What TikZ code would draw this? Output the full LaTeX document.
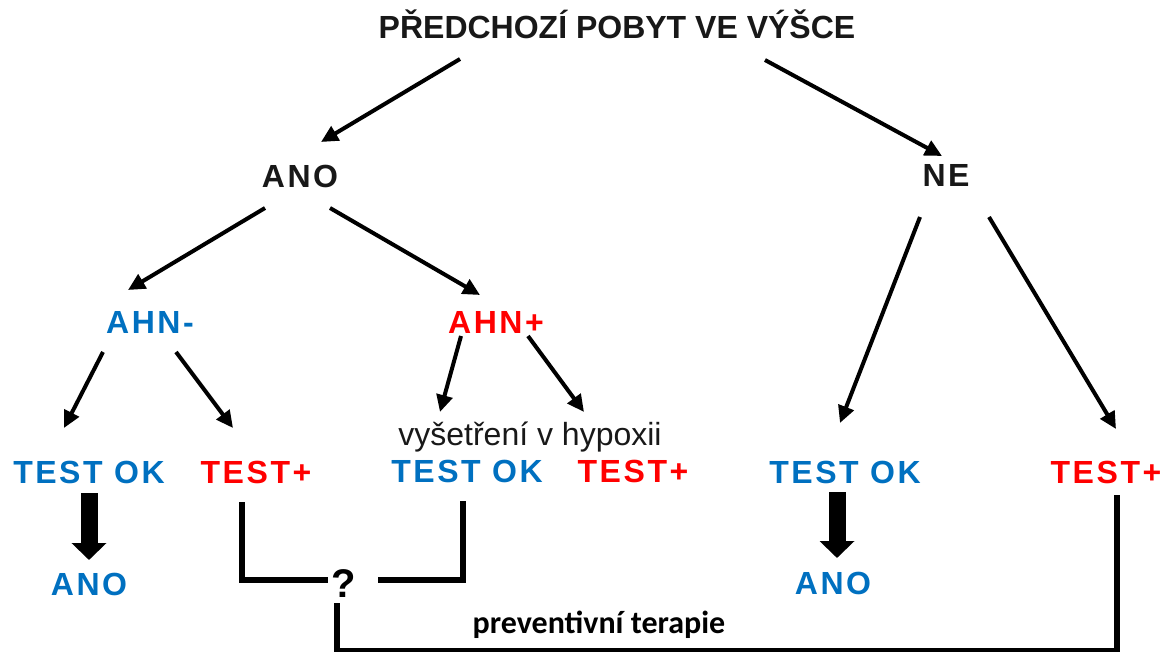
\documentclass[tikz,border=0pt]{standalone}
\usepackage{fontspec}
\setmainfont{Liberation Sans}
\newfontfamily\lblfont[LetterSpace=8,BoldFont={Liberation Sans Bold}]{Liberation Sans}
\newfontfamily\calfont[BoldFont={Carlito Bold}]{Carlito}
\usetikzlibrary{arrows.meta}
\definecolor{obl}{RGB}{0,112,192}
\definecolor{ored}{RGB}{255,0,0}
\definecolor{oblk}{RGB}{24,24,24}
\begin{document}
\begin{tikzpicture}[x=1pt,y=-1pt,
  base/.style={anchor=base,inner sep=0pt},
  lbl/.style={base,font=\lblfont\bfseries\fontsize{32}{36}\selectfont},
  blk/.style={lbl,text=oblk},
  blu/.style={lbl,text=obl},
  rd/.style={lbl,text=ored},
  arr/.style={line width=4pt,-{Triangle[length=17pt,width=16pt]}},
  fat/.style={line width=17pt,-{Triangle[length=17pt,width=34pt]}},
  brk/.style={line width=6pt}]
\useasboundingbox (0,0) rectangle (1167,652);
% nodes
\node[base,text=oblk,font=\bfseries\fontsize{32}{36}\selectfont] (title) at (617,39) {PŘEDCHOZÍ POBYT VE VÝŠCE};
\node[blk] (ano) at (300,188) {ANO};
\node[blk] (ne) at (946,187) {NE};
\node[blu] (ahnm) at (150,334) {AHN-};
\node[rd] (ahnp) at (496,334) {AHN+};
\node[blu] (okl) at (89,483) {TEST OK};
\node[rd] (tpl) at (256,483) {TEST+};
\node[base,text=oblk,font=\fontsize{32}{36}\selectfont] (hyp) at (530,445) {vyšetření v hypoxii};
\node[blu] (okm) at (467,482) {TEST OK};
\node[rd] (tpm) at (633,482) {TEST+};
\node[blu] (okr) at (845,483) {TEST OK};
\node[rd] (tpr) at (1106,483) {TEST+};
\node[blu] (anol) at (89,595) {ANO};
\node[blu] (anor) at (833,594) {ANO};
\node[base,text=black,font=\bfseries\fontsize{40}{42}\selectfont] (q) at (344,597) {?};
\node[base,text=black,font=\calfont\bfseries\fontsize{32}{36}\selectfont] (prev) at (599,633) {preventivní terapie};
% arrows
\draw[arr] ([shift={(-157,20)}]title.base) -- ([shift={(21,-46)}]ano.base);
\draw[arr] ([shift={(148,21)}]title.base) -- ([shift={(-4,-31)}]ne.base);
\draw[arr] ([shift={(-35,20)}]ano.base) -- ([shift={(-22,-44)}]ahnm.base);
\draw[arr] ([shift={(30,20)}]ano.base) -- ([shift={(-16,-39)}]ahnp.base);
\draw[arr] ([shift={(-47,18)}]ahnm.base) -- ([shift={(-25,-55)}]okl.base);
\draw[arr] ([shift={(26,18)}]ahnm.base) -- ([shift={(-23,-55)}]tpl.base);
\draw[arr] ([shift={(-35,2)}]ahnp.base) -- ([shift={(-90,-33)}]hyp.base);
\draw[arr] ([shift={(32,2)}]ahnp.base) -- ([shift={(-49,-70)}]tpm.base);
\draw[arr] ([shift={(-26,30)}]ne.base) -- ([shift={(-5,-60)}]okr.base);
\draw[arr] ([shift={(43,30)}]ne.base) -- ([shift={(10,-54)}]tpr.base);
% fat arrows
\draw[fat] ([shift={(0,10)}]okl.base) -- ([shift={(0,-35)}]anol.base);
\draw[fat] ([shift={(-8,9)}]okr.base) -- ([shift={(4,-36)}]anor.base);
% brackets
\draw[brk] ([shift={(-14,19)}]tpl.base) |- ([shift={(-16,-17)}]q.base);
\draw[brk] ([shift={(34,-17)}]q.base) -| ([shift={(-4,19)}]okm.base);
\draw[brk] ([shift={(-7,6)}]q.base) |- ([shift={(11,168)}]tpr.base) -- ([shift={(11,12)}]tpr.base);
\end{tikzpicture}
\end{document}
